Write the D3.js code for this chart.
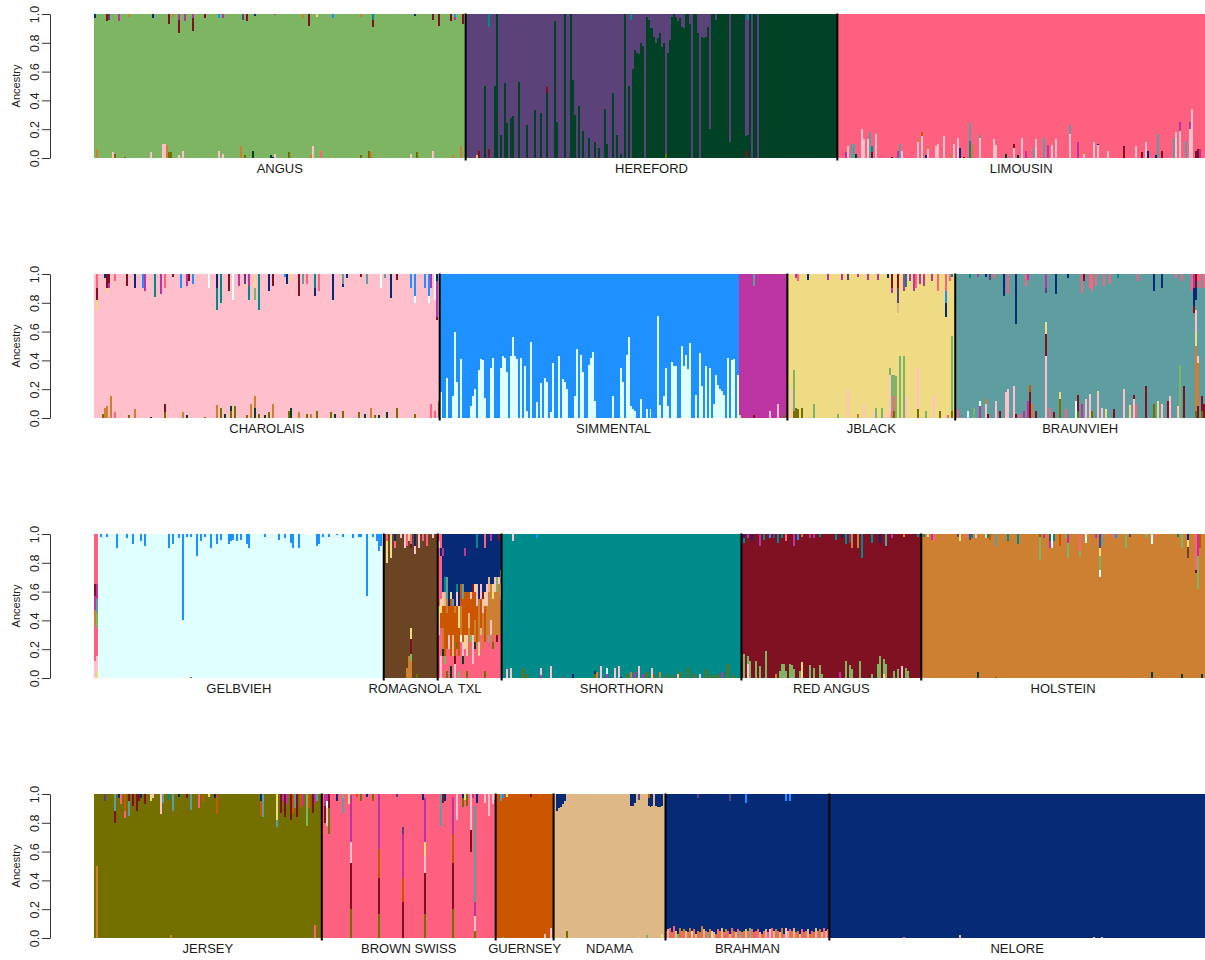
<!DOCTYPE html>
<html>
<head>
<meta charset="utf-8">
<script src="https://cdn.jsdelivr.net/npm/d3@7"></script>
<style>
body{margin:0;background:#fff}
svg text{font-family:"Liberation Sans",Arial,Helvetica,sans-serif}
</style>
</head>
<body>
<svg width="1205" height="960"></svg>
<script>

// cluster colours (K clusters)
var clusterColor = {
  ang:"#7db563", her1:"#5b4279", her2:"#014226", lim:"#fe617f", cha:"#ffc0cb",
  sim:"#1e90ff", mag:"#bb34a1", jbl:"#efdb83", bra:"#5f9ea0", gel:"#e0ffff",
  rom:"#6b4423", sho:"#008b8b", ran:"#7f1123", hol:"#cd7f32", jer:"#737000",
  gue:"#cc5500", nda:"#deb887", zeb:"#072a77"
};

var breeds = ["ANGUS","HEREFORD","LIMOUSIN",
  "CHAROLAIS","SIMMENTAL","JBLACK","BRAUNVIEH",
  "GELBVIEH","ROMAGNOLA","TXL","SHORTHORN","RED ANGUS","HOLSTEIN",
  "JERSEY","BROWN SWISS","GUERNSEY","NDAMA","BRAHMAN","NELORE"];
var breedRow = [0,0,0, 1,1,1,1, 2,2,2,2,2,2, 3,3,3,3,3,3];
// main cluster and number of individuals, in plotting order
var breedParts = [
  [["ang",186]], [["her1",83],["her2",103]], [["lim",184]],
  [["cha",173]], [["sim",150],["mag",24]], [["jbl",84]], [["bra",125]],
  [["lim",2],["gel",143]], [["rom",27]], [["lim",32]], [["sho",120]], [["ran",90]], [["hol",142]],
  [["jer",114]], [["lim",87]], [["gue",29]], [["nda",56]], [["zeb",82]], [["zeb",188]]
];

// admixture: [individual, cluster, proportion]
// "Low" stacks up from 0, "Top" hangs down from 1 (listed top first)
var angusLow = [[1,"hol",.06],[9,"cha",.04],[10,"jer",.03],[15,"jer",.01],[28,"cha",.04],[34,"cha",.1],[35,"cha",.1],[36,"hol",.09],[37,"jer",.04],[38,"jer",.04],[42,"cha",.02],[44,"cha",.05],[62,"cha",.05],[64,"cha",.03],[73,"hol",.08],[75,"jer",.02],[79,"her2",.05],[88,"her2",.02],[89,"zeb",.01],[90,"cha",.03],[97,"jer",.04],[108,"hol",.02],[109,"cha",.08],[113,"lim",.05],[133,"jer",.02],[137,"jer",.05],[138,"hol",.04],[158,"cha",.03],[161,"jer",.04],[169,"cha",.05],[179,"hol",.02],[183,"hol",.08]];
var angusTop = [[0,"zeb",.03],[6,"ran",.05],[7,"her1",.04],[12,"mag",.05],[17,"hol",.02],[29,"zeb",.03],[37,"ran",.07],[39,"hol",.02],[42,"mag",.04],[42,"ran",.09],[45,"mag",.05],[49,"mag",.03],[49,"ran",.09],[55,"ran",.03],[62,"sim",.03],[64,"mag",.03],[74,"her1",.04],[76,"ran",.05],[80,"zeb",.015],[90,"mag",.01],[104,"hol",.03],[107,"ran",.08],[111,"jbl",.02],[119,"sim",.03],[133,"hol",.02],[139,"sho",.04],[139,"ran",.05],[160,"zeb",.015],[169,"ran",.04],[172,"ran",.08],[178,"ran",.05],[180,"sim",.02],[180,"mag",.02],[184,"ran",.07]];

var herefordLow = [[5,"nda",.02],[6,"ran",.05],[9,"her2",.5],[11,"ran",.06],[14,"her2",.5],[15,"her2",1],[17,"her2",.16],[19,"her2",.52],[20,"her2",.24],[22,"her2",.28],[23,"her2",.29],[26,"her2",.53],[30,"her2",.23],[34,"her2",.33],[37,"her2",.31],[40,"her2",.45],[40,"ran",.04],[44,"her2",.95],[45,"her2",.25],[49,"her2",1],[52,"her2",1],[53,"her2",.54],[54,"her2",.3],[56,"her2",.36],[58,"her2",.19],[61,"her2",.14],[64,"her2",.11],[66,"her2",.07],[69,"her2",.34],[70,"her2",.1],[73,"her2",.45],[75,"her2",.16],[77,"her2",.03],[79,"her2",1],[81,"her2",.5],[100,"jer",.03],[140,"ran",.05]];
var herefordTop = [[11,"sho",.09],[82,"sho",.04],[83,"her1",.38],[84,"her1",.25],[85,"her1",.27],[86,"her1",.28],[87,"her1",.2],[88,"her1",.22],[89,"her1",1],[90,"her1",.02],[91,"her1",.04],[92,"her1",.1],[93,"her1",.1],[94,"her1",.16],[95,"her1",.2],[96,"her1",.17],[97,"her1",.13],[98,"her1",.23],[99,"her1",.2],[100,"her1",.97],[101,"her1",.27],[102,"her1",.18],[103,"her1",.02],[105,"her1",.02],[106,"her1",.05],[107,"her1",.03],[108,"her1",.09],[109,"her1",.1],[112,"her1",.07],[113,"her1",1],[116,"her1",.13],[117,"her1",1],[118,"her1",.16],[119,"her1",.17],[120,"her1",.16],[121,"her1",.09],[122,"her1",.8],[125,"her1",.04],[132,"her1",.89],[140,"her1",.85],[141,"sho",.04],[141,"her1",.8],[143,"her1",1],[146,"her1",1]];

var limousinLow = [[4,"mag",.04],[5,"cha",.08],[7,"bra",.1],[8,"bra",.1],[9,"her2",.03],[12,"cha",.2],[13,"cha",.13],[15,"cha",.13],[16,"bra",.18],[17,"ran",.04],[17,"sho",.04],[19,"cha",.17],[27,"her2",.01],[30,"mag",.05],[31,"bra",.1],[32,"cha",.05],[40,"cha",.11],[40,"hol",.03],[42,"cha",.15],[42,"gue",.03],[44,"zeb",.02],[45,"cha",.06],[45,"hol",.02],[49,"cha",.08],[50,"cha",.1],[53,"cha",.15],[56,"hol",.03],[58,"cha",.1],[60,"cha",.14],[61,"zeb",.07],[63,"ran",.01],[66,"sho",.12],[66,"bra",.12],[67,"hol",.1],[71,"cha",.14],[71,"bra",.02],[78,"cha",.13],[79,"cha",.09],[84,"her2",.03],[88,"cha",.07],[88,"ran",.03],[90,"her2",.02],[92,"cha",.14],[94,"mag",.05],[98,"bra",.07],[99,"cha",.13],[103,"bra",.14],[105,"mag",.09],[107,"cha",.09],[109,"cha",.13],[116,"cha",.17],[116,"bra",.06],[120,"mag",.11],[123,"cha",.03],[123,"hol",.01],[128,"cha",.11],[130,"cha",.09],[130,"zeb",.01],[135,"cha",.05],[143,"ran",.08],[149,"cha",.08],[152,"ran",.04],[154,"cha",.11],[155,"zeb",.05],[159,"zeb",.02],[160,"bra",.17],[162,"ran",.05],[168,"bra",.14],[169,"cha",.18],[171,"cha",.19],[171,"mag",.06],[174,"bra",.12],[176,"cha",.2],[176,"mag",.05],[177,"cha",.34],[179,"ran",.05],[180,"ran",.06],[181,"mag",.06]];
var limousinTop = [];

var charolaisLow = [[4,"jer",.03],[5,"hol",.07],[6,"hol",.08],[8,"hol",.15],[10,"lim",.04],[17,"jer",.02],[20,"hol",.06],[28,"her2",.01],[35,"jer",.04],[35,"ran",.06],[44,"hol",.04],[46,"her2",.02],[55,"jer",.01],[61,"hol",.09],[63,"jer",.07],[65,"her2",.03],[68,"jer",.05],[68,"her2",.03],[70,"jer",.08],[76,"jer",.02],[78,"hol",.1],[80,"her2",.07],[80,"hol",.08],[82,"jer",.03],[85,"her2",.02],[87,"jer",.04],[89,"hol",.1],[97,"jer",.05],[98,"her2",.07],[102,"hol",.04],[106,"jer",.03],[108,"hol",.03],[111,"jer",.05],[118,"jer",.04],[120,"her2",.03],[124,"jer",.05],[132,"jer",.04],[135,"her2",.03],[138,"hol",.07],[140,"jer",.02],[142,"her2",.02],[146,"her2",.04],[151,"jer",.07],[160,"jer",.03],[168,"lim",.1],[170,"lim",.05],[172,"jer",.12]];
var charolaisTop = [[1,"lim",.1],[1,"ran",.08],[1,"jbl",.07],[5,"zeb",.03],[6,"ran",.1],[6,"jbl",.03],[7,"ran",.06],[7,"mag",.04],[10,"lim",.05],[16,"ran",.08],[20,"zeb",.1],[24,"sim",.1],[25,"mag",.12],[30,"sho",.16],[33,"mag",.14],[35,"lim",.1],[39,"ran",.02],[43,"sim",.1],[46,"mag",.08],[47,"ran",.05],[49,"sim",.07],[57,"gel",.1],[61,"zeb",.1],[61,"sho",.15],[63,"sho",.2],[67,"ran",.12],[69,"gel",.18],[72,"mag",.08],[75,"her1",.07],[75,"jbl",.02],[77,"mag",.08],[77,"sho",.1],[80,"jbl",.1],[80,"ang",.08],[82,"sho",.25],[87,"zeb",.12],[89,"ran",.08],[95,"sim",.02],[96,"zeb",.07],[98,"jbl",.05],[102,"ran",.15],[104,"bra",.07],[106,"lim",.07],[110,"sho",.1],[110,"zeb",.05],[112,"lim",.12],[119,"zeb",.18],[124,"bra",.07],[124,"zeb",.02],[126,"zeb",.03],[133,"ran",.02],[136,"bra",.07],[143,"gel",.1],[145,"bra",.03],[148,"zeb",.17],[151,"ran",.04],[158,"sim",.1],[160,"sim",.15],[160,"gel",.05],[165,"sim",.1],[167,"sim",.15],[167,"gel",.05],[168,"mag",.1],[170,"gel",.18],[171,"zeb",.05],[171,"mag",.25],[171,"ran",.02]];

var simmentalLow = [[0,"gel",.18],[3,"gel",.28],[6,"gel",.15],[7,"gel",.6],[8,"gel",.25],[10,"gel",.41],[15,"gel",.08],[16,"gel",.15],[17,"gel",.2],[19,"gel",.33],[20,"gel",.41],[21,"gel",.4],[22,"gel",.14],[25,"gel",.35],[26,"gel",.42],[30,"gel",.35],[31,"gel",.43],[32,"gel",.42],[33,"gel",.32],[35,"gel",.43],[36,"gel",.56],[37,"gel",.43],[38,"gel",.41],[40,"gel",.42],[42,"gel",.36],[43,"gel",.05],[45,"gel",.53],[48,"gel",.11],[50,"gel",.24],[52,"gel",.28],[53,"gel",.25],[55,"gel",.04],[56,"gel",.38],[59,"gel",.43],[61,"gel",.27],[62,"gel",.25],[63,"gel",.2],[67,"gel",.15],[68,"gel",.48],[70,"gel",.44],[71,"gel",.32],[74,"gel",.37],[75,"gel",.42],[76,"gel",.46],[77,"gel",.12],[86,"gel",.15],[90,"gel",.35],[91,"gel",.25],[93,"gel",.44],[94,"gel",.56],[95,"gel",.08],[96,"gel",.06],[97,"gel",.05],[100,"gel",.13],[103,"gel",.06],[105,"gel",.06],[109,"gel",.71],[110,"gel",.09],[112,"gel",.15],[113,"gel",.35],[114,"gel",.08],[116,"gel",.39],[117,"gel",.36],[118,"gel",.36],[121,"gel",.5],[122,"gel",.36],[123,"gel",.44],[124,"gel",.34],[125,"gel",.52],[128,"gel",.16],[130,"gel",.45],[131,"gel",.22],[133,"gel",.36],[135,"gel",.35],[137,"gel",.1],[138,"gel",.3],[139,"gel",.23],[140,"gel",.2],[141,"gel",.19],[142,"gel",.16],[144,"gel",.42],[146,"gel",.4],[147,"gel",.41],[149,"gel",.3],[150,"jbl",.02],[157,"ran",.02],[165,"cha",.05],[169,"cha",.1],[172,"jer",.02]];
var simmentalTop = [[157,"bra",.08]];

var jblackLow = [[2,"cha",.2],[3,"jer",.05],[3,"ang",.28],[4,"jer",.07],[5,"jer",.06],[7,"jer",.07],[13,"ang",.1],[25,"ang",.03],[30,"cha",.2],[35,"hol",.03],[38,"cha",.1],[43,"cha",.04],[44,"ang",.07],[47,"ang",.07],[48,"cha",.03],[51,"cha",.3],[51,"ang",.05],[52,"lim",.05],[52,"ang",.25],[53,"jer",.05],[53,"lim",.1],[53,"ang",.15],[54,"ang",.29],[56,"ang",.43],[58,"ang",.43],[59,"cha",.15],[65,"jer",.06],[65,"cha",.29],[69,"ang",.05],[73,"cha",.15],[76,"jer",.05],[80,"lim",.02],[82,"jer",.05],[82,"ang",.52]];
var jblackTop = [[4,"mag",.03],[5,"lim",.05],[10,"zeb",.04],[20,"mag",.04],[27,"mag",.04],[30,"her1",.04],[35,"mag",.02],[40,"mag",.04],[45,"mag",.04],[50,"zeb",.03],[52,"ran",.1],[52,"mag",.03],[55,"ran",.1],[55,"her1",.1],[55,"nda",.07],[58,"mag",.12],[59,"sho",.09],[61,"mag",.05],[63,"mag",.12],[64,"lim",.1],[66,"mag",.07],[68,"mag",.08],[72,"mag",.05],[75,"lim",.12],[79,"lim",.12],[79,"sim",.08],[79,"zeb",.1],[81,"lim",.05],[82,"sho",.02]];

var braunviehLow = [[1,"lim",.06],[6,"gel",.05],[9,"ang",.07],[12,"mag",.08],[12,"gel",.04],[15,"cha",.1],[15,"hol",.03],[16,"ran",.03],[20,"cha",.12],[22,"ran",.05],[25,"cha",.18],[26,"cha",.2],[29,"cha",.22],[30,"ran",.03],[32,"lim",.03],[34,"mag",.05],[36,"mag",.12],[37,"ran",.18],[37,"gue",.05],[38,"hol",.1],[40,"ran",.05],[45,"cha",.43],[45,"ran",.15],[45,"jbl",.09],[47,"lim",.07],[49,"ran",.04],[52,"jer",.13],[52,"jbl",.05],[55,"lim",.06],[60,"gel",.12],[61,"jer",.05],[61,"ran",.11],[63,"mag",.1],[65,"cha",.13],[67,"cha",.17],[68,"jer",.05],[71,"cha",.17],[71,"jbl",.02],[73,"cha",.07],[75,"jbl",.06],[79,"ran",.06],[84,"cha",.2],[87,"jbl",.09],[89,"cha",.13],[89,"ran",.03],[90,"lim",.1],[95,"ran",.22],[99,"jer",.1],[101,"jbl",.12],[103,"cha",.1],[106,"ran",.12],[107,"cha",.15],[111,"cha",.08],[112,"ang",.37],[114,"ran",.22],[120,"jer",.05],[120,"hol",.45],[120,"jbl",.1],[120,"cha",.15],[121,"ran",.08],[121,"hol",.3],[121,"cha",.05],[123,"jer",.05],[123,"ran",.1],[124,"ran",.1]];
var braunviehTop = [[7,"sho",.03],[11,"mag",.02],[15,"zeb",.02],[17,"her1",.04],[19,"lim",.03],[24,"zeb",.15],[26,"lim",.14],[30,"zeb",.35],[35,"lim",.08],[36,"mag",.04],[45,"mag",.1],[45,"her1",.03],[50,"zeb",.14],[56,"zeb",.03],[63,"lim",.13],[64,"ran",.05],[67,"lim",.1],[68,"lim",.12],[70,"lim",.08],[74,"lim",.08],[77,"lim",.07],[81,"sho",.03],[91,"lim",.05],[99,"zeb",.12],[103,"zeb",.1],[110,"lim",.03],[113,"lim",.05],[118,"lim",.12],[119,"mag",.1],[119,"zeb",.12],[119,"ran",.05],[120,"ran",.1],[120,"zeb",.08],[121,"lim",.05],[122,"lim",.1],[124,"lim",.1]];

var gelbviehLow = [[48,"jer",.01]];
var gelbviehTop = [[3,"sim",.02],[6,"sim",.02],[11,"sim",.1],[16,"sim",.03],[19,"sim",.07],[23,"sim",.05],[25,"sim",.08],[37,"sim",.1],[39,"sim",.07],[42,"sim",.03],[44,"sim",.6],[46,"sim",.02],[48,"sim",.02],[51,"sim",.15],[53,"sim",.05],[55,"sim",.02],[58,"sim",.1],[61,"sim",.07],[63,"sim",.04],[67,"sim",.07],[68,"sim",.05],[69,"sim",.04],[71,"sim",.05],[73,"sim",.04],[76,"sim",.07],[77,"sim",.1],[85,"sim",.02],[92,"sim",.04],[95,"sim",.03],[98,"sim",.06],[99,"sim",.1],[102,"sim",.1],[111,"sim",.08],[112,"sim",.07],[114,"sim",.02],[117,"sim",.02],[121,"sim",.01],[124,"sim",.02],[129,"sim",.03],[132,"sim",.02],[133,"sim",.02],[136,"sim",.43],[139,"sim",.02],[141,"sim",.05],[142,"sim",.12],[143,"sim",.08]];
var gelbviehMixed = [
  [["cha",.12],["lim",.25],["hol",.1],["mag",.1],["ran",.08],["lim",.35]],
  [["jbl",.05],["cha",.1],["lim",.2],["ang",.1],["bra",.1],["mag",.1],["lim",.35]]
];

var romagnolaLow = [[11,"hol",.07],[12,"hol",.15],[13,"hol",.12],[13,"ang",.05],[13,"ran",.1],[13,"jbl",.08],[16,"jer",.03]];
var romagnolaTop = [[1,"lim",.05],[1,"jbl",.15],[3,"jbl",.17],[5,"zeb",.05],[5,"lim",.05],[8,"cha",.03],[10,"cha",.1],[11,"lim",.08],[12,"jbl",.05],[13,"lim",.07],[13,"ran",.03],[15,"zeb",.08],[15,"cha",.06],[17,"cha",.1],[19,"lim",.05],[21,"lim",.08],[24,"cha",.03]];

// TXL: every animal is a mixture, stacked from the bottom
var txlStacks = [
  [["lim",.3],["cha",.1],["jbl",.1],["lim",.4],["cha",.05],["lim",.05]],
  [["cha",.15],["lim",.2],["gue",.1],["jbl",.1],["lim",.3],["zeb",.05],["lim",.1]],
  [["lim",.15],["her2",.05],["hol",.15],["gue",.15],["cha",.1],["zeb",.25],["mag",.05],["zeb",.1]],
  [["lim",.1],["ang",.05],["gue",.35],["nda",.1],["sho",.1],["zeb",.3]],
  [["jer",.05],["lim",.15],["gue",.25],["hol",.1],["bra",.15],["zeb",.3]],
  [["lim",.2],["cha",.1],["gue",.2],["zeb",.5]],
  [["her2",.08],["lim",.07],["gue",.4],["jbl",.05],["zeb",.4]],
  [["lim",.15],["nda",.15],["gue",.2],["bra",.05],["zeb",.45]],
  [["cha",.1],["ran",.05],["gue",.3],["hol",.05],["zeb",.5]],
  [["lim",.2],["jer",.05],["gue",.25],["cha",.1],["sho",.05],["zeb",.35]],
  [["ang",.05],["lim",.1],["gue",.2],["jbl",.15],["zeb",.5]],
  [["lim",.25],["gel",.05],["hol",.2],["gue",.15],["zeb",.35]],
  [["lim",.1],["her2",.05],["cha",.1],["gue",.3],["bra",.1],["zeb",.35]],
  [["lim",.2],["jbl",.1],["gue",.3],["zeb",.25],["mag",.05],["zeb",.1]],
  [["jer",.05],["lim",.1],["cha",.15],["gue",.3],["zeb",.4]],
  [["lim",.15],["hol",.2],["nda",.1],["gue",.15],["zeb",.4]],
  [["lim",.25],["ang",.05],["gue",.25],["cha",.05],["zeb",.4]],
  [["lim",.1],["cha",.2],["gue",.3],["ran",.05],["zeb",.35]],
  [["lim",.2],["her2",.05],["hol",.15],["gue",.2],["jbl",.05],["zeb",.35]],
  [["lim",.25],["gue",.25],["cha",.15],["zeb",.25],["sho",.1]],
  [["lim",.15],["jbl",.1],["hol",.3],["zeb",.45]],
  [["lim",.3],["nda",.05],["gue",.2],["cha",.1],["zeb",.35]],
  [["lim",.2],["hol",.25],["cha",.1],["ran",.05],["zeb",.4]],
  [["jer",.05],["lim",.2],["gue",.25],["jbl",.1],["zeb",.3],["lim",.1]],
  [["lim",.3],["hol",.2],["cha",.15],["zeb",.35]],
  [["lim",.25],["ang",.05],["hol",.3],["nda",.1],["zeb",.3]],
  [["lim",.3],["cha",.1],["hol",.25],["zeb",.3],["mag",.05]],
  [["lim",.2],["jer",.05],["hol",.3],["jbl",.1],["zeb",.35]],
  [["lim",.3],["hol",.3],["cha",.1],["zeb",.3]],
  [["lim",.25],["ran",.05],["hol",.3],["ang",.1],["zeb",.3]],
  [["lim",.3],["hol",.35],["cha",.05],["zeb",.25],["ran",.05]],
  [["lim",.25],["hol",.3],["jbl",.1],["ang",.1],["zeb",.25]]
];

var shorthornLow = [[2,"cha",.06],[4,"cha",.07],[10,"jer",.07],[12,"jer",.03],[19,"mag",.02],[19,"cha",.05],[24,"cha",.08],[30,"mag",.01],[35,"zeb",.03],[46,"jer",.03],[46,"zeb",.02],[47,"hol",.04],[49,"cha",.08],[52,"mag",.03],[52,"gel",.04],[56,"cha",.07],[58,"cha",.08],[59,"zeb",.01],[62,"jer",.03],[64,"hol",.04],[66,"mag",.04],[68,"cha",.08],[70,"mag",.03],[72,"jer",.04],[75,"cha",.07],[76,"jer",.03],[79,"hol",.04],[82,"jer",.02],[85,"jer",.02],[88,"cha",.03],[89,"jer",.04],[93,"jer",.07],[96,"jer",.03],[99,"cha",.03],[102,"jer",.06],[104,"jer",.02],[106,"jer",.02],[108,"jer",.03],[110,"mag",.04],[113,"jer",.1],[116,"jer",.02]];
var shorthornTop = [[5,"cha",.05],[17,"sim",.03]];

var redAngusLow = [[1,"ang",.17],[3,"cha",.1],[3,"ang",.05],[4,"ang",.12],[7,"ang",.12],[9,"ang",.08],[12,"ang",.19],[17,"hol",.03],[19,"ang",.05],[20,"ang",.1],[21,"ang",.1],[22,"ang",.05],[24,"ang",.1],[25,"ang",.09],[26,"ang",.06],[29,"ang",.05],[30,"jbl",.11],[34,"ang",.09],[36,"ang",.07],[39,"ang",.09],[40,"ang",.03],[49,"mag",.04],[52,"ang",.12],[54,"ang",.09],[55,"ang",.06],[59,"ang",.12],[65,"ang",.03],[68,"ang",.1],[69,"ang",.15],[71,"jbl",.03],[71,"ang",.1],[72,"ang",.1],[76,"ang",.05],[78,"ang",.06],[80,"cha",.08],[82,"ang",.07],[83,"ang",.05]];
var redAngusTop = [[1,"zeb",.03],[1,"sho",.03],[3,"mag",.03],[5,"zeb",.05],[9,"mag",.08],[11,"sho",.04],[14,"sim",.03],[16,"her1",.03],[18,"sho",.06],[20,"sho",.03],[22,"lim",.05],[26,"mag",.08],[28,"sim",.04],[30,"hol",.02],[34,"mag",.03],[36,"mag",.03],[39,"sho",.02],[47,"sho",.04],[50,"zeb",.03],[52,"sho",.07],[54,"her1",.06],[55,"hol",.1],[58,"hol",.1],[60,"sho",.17],[65,"sho",.06],[69,"zeb",.06],[72,"bra",.08],[75,"mag",.03],[81,"hol",.02],[88,"sho",.02]];

var holsteinLow = [[28,"her2",.04],[37,"jer",.01],[115,"her2",.04],[130,"her2",.03],[140,"her2",.03]];
var holsteinTop = [[1,"sho",.02],[3,"jbl",.02],[5,"mag",.04],[6,"lim",.05],[18,"her1",.02],[19,"jbl",.05],[22,"lim",.03],[24,"her1",.04],[25,"sho",.03],[27,"cha",.03],[32,"jbl",.03],[33,"sho",.03],[34,"gue",.04],[37,"bra",.08],[43,"sho",.05],[48,"sho",.07],[59,"jer",.02],[59,"ang",.16],[61,"mag",.03],[64,"her1",.05],[64,"mag",.05],[65,"gel",.1],[66,"sho",.05],[69,"gue",.08],[72,"ang",.03],[73,"mag",.06],[73,"ang",.11],[79,"lim",.12],[79,"ang",.03],[82,"gel",.06],[87,"mag",.03],[89,"her1",.1],[89,"jbl",.05],[89,"ang",.1],[89,"gel",.05],[90,"bra",.08],[95,"lim",.03],[97,"sim",.03],[102,"ang",.1],[104,"her1",.02],[112,"ang",.03],[115,"gel",.07],[117,"lim",.02],[128,"sho",.02],[130,"ang",.1],[133,"zeb",.04],[133,"jbl",.05],[133,"rom",.08],[137,"lim",.25],[137,"ran",.02],[138,"mag",.15],[138,"ang",.23],[139,"gue",.1]];

var jerseyLow = [[1,"hol",.5],[38,"hol",.02],[110,"lim",.09]];
var jerseyTop = [[5,"her1",.05],[10,"bra",.12],[10,"ran",.08],[12,"zeb",.03],[13,"lim",.07],[15,"gue",.12],[15,"lim",.05],[17,"ran",.05],[17,"bra",.1],[19,"ran",.08],[21,"ran",.12],[22,"ran",.05],[23,"zeb",.03],[25,"ran",.07],[28,"jbl",.05],[29,"cha",.03],[33,"cha",.14],[34,"bra",.06],[37,"sho",.04],[39,"bra",.12],[42,"zeb",.02],[46,"ran",.03],[48,"bra",.11],[52,"lim",.1],[54,"gue",.05],[57,"jbl",.02],[60,"zeb",.03],[61,"gue",.14],[83,"zeb",.05],[83,"gue",.1],[84,"bra",.16],[91,"jbl",.18],[91,"bra",.05],[93,"ran",.13],[94,"mag",.05],[95,"ran",.16],[96,"mag",.07],[98,"ran",.18],[99,"gue",.13],[100,"bra",.1],[101,"ran",.16],[103,"gue",.1],[104,"mag",.08],[106,"ang",.22],[107,"gue",.1],[109,"ran",.13],[110,"mag",.06],[111,"bra",.05]];

var brownSwissLow = [[14,"jer",.2],[14,"ran",.32],[14,"cha",.15],[14,"mag",.32],[28,"jer",.17],[28,"ran",.25],[28,"gue",.2],[28,"mag",.38],[40,"ran",.25],[40,"gue",.17],[40,"mag",.3],[40,"her1",.05],[51,"jer",.17],[51,"ran",.28],[51,"cha",.12],[51,"jbl",.1],[51,"mag",.3],[65,"jer",.2],[65,"ran",.32],[65,"gue",.2],[65,"mag",.26],[76,"jer",.05],[76,"cha",.1],[76,"mag",.1],[76,"bra",.67]];
var brownSwissTop = [[1,"mag",.08],[1,"ran",.12],[2,"mag",.05],[2,"gel",.05],[2,"cha",.12],[3,"ran",.1],[3,"jer",.18],[7,"zeb",.05],[10,"ang",.03],[10,"bra",.1],[13,"jbl",.07],[17,"gue",.02],[19,"jer",.05],[22,"zeb",.02],[25,"jer",.05],[37,"her1",.02],[50,"zeb",.04],[59,"bra",.22],[60,"ran",.06],[61,"zeb",.05],[67,"cha",.18],[70,"zeb",.03],[70,"jer",.06],[71,"jbl",.04],[72,"jer",.08],[74,"cha",.25],[74,"ran",.15],[75,"mag",.03],[77,"zeb",.06],[81,"cha",.06],[83,"cha",.15],[85,"cha",.07],[86,"cha",.04]];

var guernseyLow = [[3,"ang",.01],[24,"cha",.03],[27,"cha",.07]];
var guernseyTop = [[2,"bra",.05],[3,"sim",.03],[5,"jbl",.02],[17,"ran",.02]];

var ndamaLow = [[6,"jer",.05],[42,"jbl",.01],[46,"ang",.02],[54,"jbl",.03]];
var ndamaTop = [[1,"zeb",.12],[2,"zeb",.1],[3,"zeb",.09],[4,"zeb",.07],[5,"zeb",.05],[38,"zeb",.08],[39,"zeb",.08],[40,"zeb",.06],[42,"her1",.04],[47,"gue",.03],[47,"zeb",.05],[48,"zeb",.09],[49,"zeb",.08],[51,"zeb",.08],[52,"zeb",.09],[53,"zeb",.09],[54,"zeb",.08]];

var brahmanLow = [[0,"lim",.05],[1,"nda",.06],[2,"lim",.07],[3,"hol",.04],[4,"lim",.08],[5,"nda",.05],[6,"ang",.03],[7,"hol",.07],[8,"lim",.05],[9,"hol",.06],[10,"nda",.05],[11,"lim",.04],[12,"hol",.07],[13,"jbl",.05],[14,"lim",.06],[15,"nda",.03],[16,"hol",.05],[17,"lim",.04],[18,"hol",.08],[19,"nda",.06],[20,"lim",.05],[21,"ang",.04],[22,"hol",.06],[23,"cha",.05],[24,"nda",.04],[25,"hol",.03],[26,"lim",.06],[27,"hol",.05],[28,"nda",.07],[29,"lim",.04],[30,"hol",.06],[31,"lim",.05],[32,"nda",.03],[33,"lim",.07],[34,"hol",.05],[35,"nda",.04],[36,"lim",.06],[37,"ang",.05],[38,"lim",.04],[39,"hol",.05],[40,"nda",.06],[41,"lim",.05],[42,"ang",.07],[43,"lim",.06],[44,"hol",.04],[45,"lim",.05],[46,"lim",.06],[47,"nda",.04],[48,"hol",.03],[49,"lim",.05],[50,"nda",.06],[51,"lim",.04],[52,"cha",.06],[53,"lim",.07],[54,"nda",.05],[55,"hol",.06],[56,"lim",.05],[57,"nda",.04],[58,"hol",.07],[59,"lim",.03],[60,"cha",.07],[61,"nda",.05],[62,"lim",.06],[63,"hol",.05],[64,"nda",.07],[65,"lim",.04],[66,"hol",.05],[67,"nda",.03],[68,"lim",.06],[69,"hol",.04],[70,"lim",.05],[71,"nda",.06],[72,"hol",.03],[73,"lim",.05],[74,"hol",.04],[75,"nda",.07],[76,"lim",.05],[77,"hol",.06],[78,"nda",.04],[79,"lim",.07],[80,"nda",.05],[81,"lim",.06]];
var brahmanTop = [[16,"her1",.03],[32,"her1",.05],[40,"sim",.06],[60,"sim",.05],[62,"sim",.05]];

var neloreLow = [[37,"lim",.01],[65,"nda",.02],[132,"nda",.01],[136,"nda",.01]];
var neloreTop = [];

var spikeTables = [
  ["ANGUS",angusLow,angusTop],["HEREFORD",herefordLow,herefordTop],["LIMOUSIN",limousinLow,limousinTop],
  ["CHAROLAIS",charolaisLow,charolaisTop],["SIMMENTAL",simmentalLow,simmentalTop],["JBLACK",jblackLow,jblackTop],
  ["BRAUNVIEH",braunviehLow,braunviehTop],["GELBVIEH",gelbviehLow,gelbviehTop],["ROMAGNOLA",romagnolaLow,romagnolaTop],
  ["SHORTHORN",shorthornLow,shorthornTop],["RED ANGUS",redAngusLow,redAngusTop],["HOLSTEIN",holsteinLow,holsteinTop],
  ["JERSEY",jerseyLow,jerseyTop],["BROWN SWISS",brownSwissLow,brownSwissTop],["GUERNSEY",guernseyLow,guernseyTop],
  ["NDAMA",ndamaLow,ndamaTop],["BRAHMAN",brahmanLow,brahmanTop],["NELORE",neloreLow,neloreTop]
];
var fullStacks = [["GELBVIEH",gelbviehMixed],["TXL",txlStacks]];

var yTicks = [0,0.2,0.4,0.6,0.8,1];

var svg = d3.select("svg"),
    plotLeft = 94, plotRight = 1205, rowTop0 = 14, rowStep = 260, rowH = 144;

// build one list of [cluster, q0, q1] segments per animal
function buildBreed(b){
  var inds = [];
  breedParts[b].forEach(function(p){
    for(var i=0;i<p[1];i++) inds.push({main:p[0], low:[], top:[], stack:null});
  });
  spikeTables.forEach(function(t){
    if(t[0]!=breeds[b]) return;
    t[1].forEach(function(s){ inds[s[0]].low.push([s[1],s[2]]); });
    t[2].forEach(function(s){ inds[s[0]].top.push([s[1],s[2]]); });
  });
  fullStacks.forEach(function(f){
    if(f[0]!=breeds[b]) return;
    f[1].forEach(function(st,i){ inds[i].stack = st; });
  });
  return inds.map(function(d){
    var segs = [], y0 = 0;
    if(d.stack){
      d.stack.forEach(function(c){ segs.push([c[0],y0,Math.min(1,y0+c[1])]); y0+=c[1]; });
      if(y0<1) segs.push([d.main,y0,1]);
      return segs;
    }
    d.low.forEach(function(c){ var y1=Math.min(1,y0+c[1]); segs.push([c[0],y0,y1]); y0=y1; });
    var topSum = d3.sum(d.top, function(c){return c[1];});
    var yMain = Math.max(y0, 1-topSum);
    if(yMain>y0) segs.push([d.main,y0,yMain]);
    var yt = 1;
    d.top.forEach(function(c){ var lo=Math.max(yMain, yt-c[1]); if(yt>lo) segs.push([c[0],lo,yt]); yt=lo; });
    return segs;
  });
}

function drawRow(r){
  var rowTop = rowTop0 + r*rowStep, rowBottom = rowTop + rowH;
  var rowBreeds = d3.range(breeds.length).filter(function(b){ return breedRow[b]==r; });
  var data = rowBreeds.map(buildBreed);
  var total = d3.sum(data, function(d){ return d.length; });
  var x = d3.scaleLinear().domain([0,total]).range([plotLeft, plotRight]);
  var y = d3.scaleLinear().domain([0,1]).range([rowBottom, rowTop]);
  var g = svg.append("g");

  var start = 0, bounds = [];
  data.forEach(function(inds, k){
    bounds.push([start, start+inds.length, rowBreeds[k]]);
    inds.forEach(function(segs, i){
      var xi = x(start+i), w = x(start+i+1)-xi + 0.35;
      segs.forEach(function(s){
        g.append("rect")
          .attr("x", xi).attr("width", w)
          .attr("y", y(s[2])).attr("height", y(s[1])-y(s[2]))
          .attr("fill", clusterColor[s[0]])
          .attr("shape-rendering","crispEdges");
      });
    });
    start += inds.length;
  });

  // breed separators
  bounds.slice(1).forEach(function(bd){
    g.append("line")
      .attr("x1", x(bd[0])).attr("x2", x(bd[0]))
      .attr("y1", rowTop-0.5).attr("y2", rowBottom+2.5)
      .attr("stroke","#000").attr("stroke-width",2);
  });

  // breed labels
  bounds.forEach(function(bd){
    g.append("text")
      .attr("x", (x(bd[0])+x(bd[1]))/2).attr("y", rowBottom+14.5)
      .attr("text-anchor","middle").attr("font-size","13px").attr("fill","#1a1a1a")
      .text(breeds[bd[2]]);
  });

  // y axis
  var ax = g.append("g").attr("transform","translate(50,0)")
    .call(d3.axisLeft(y).tickValues(yTicks).tickFormat(d3.format(".1f")).tickSize(8).tickSizeOuter(0));
  ax.select(".domain").attr("stroke","#333");
  ax.selectAll(".tick line").attr("stroke","#333");
  ax.selectAll(".tick text")
    .attr("transform","rotate(-90)")
    .attr("x",0).attr("y",-11.5).attr("dy",null)
    .attr("text-anchor","middle")
    .attr("font-size","12.5px").attr("font-family","Liberation Sans, Arial, sans-serif")
    .attr("fill","#222");

  g.append("text")
    .attr("transform","translate(20,"+((rowTop+rowBottom)/2)+") rotate(-90)")
    .attr("text-anchor","middle").attr("font-size","11px").attr("fill","#222")
    .text("Ancestry");
}

for(var r=0;r<4;r++) drawRow(r);
</script>
</body>
</html>
